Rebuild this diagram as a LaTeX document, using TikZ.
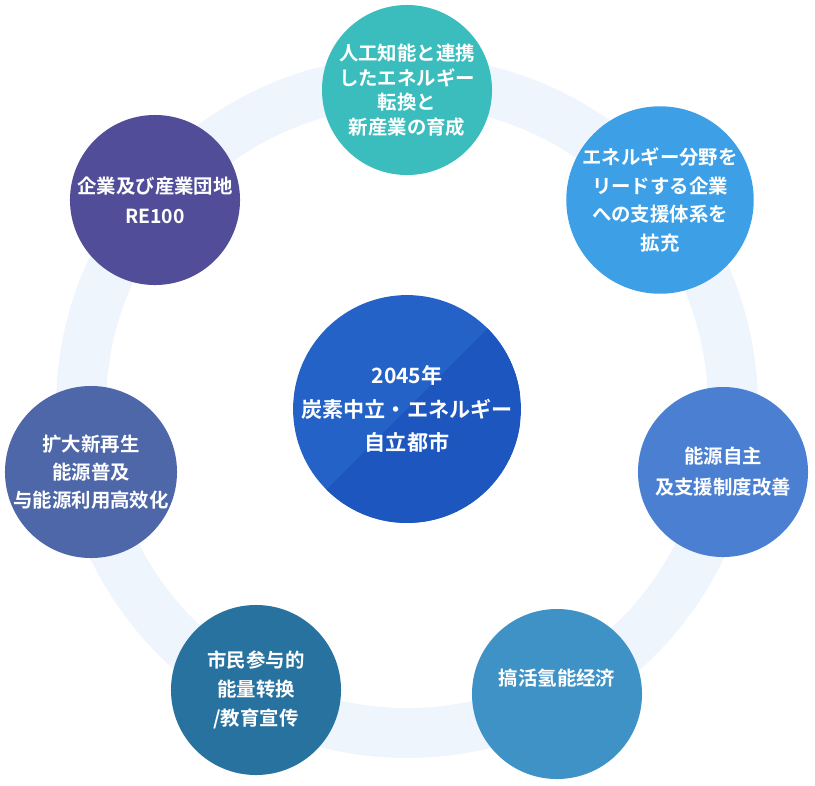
\documentclass[tikz,border=0pt]{standalone}
\usepackage{fontspec}
\newfontfamily\jpfont{Noto Sans CJK JP}[UprightFont=* Bold]
\newfontfamily\scfont{Noto Sans CJK SC}[UprightFont=* Bold]
\usetikzlibrary{positioning}
\definecolor{ringblue}{HTML}{EFF5FD}
\definecolor{hubA}{HTML}{2462C7}
\definecolor{hubB}{HTML}{1D56BE}
\definecolor{cTeal}{HTML}{3BBDBE}
\definecolor{cSky}{HTML}{3DA0E7}
\definecolor{cIndigo}{HTML}{514D98}
\definecolor{cSlate}{HTML}{4E67A9}
\definecolor{cBlue}{HTML}{4A7FD1}
\definecolor{cSea}{HTML}{27729F}
\definecolor{cSteel}{HTML}{3F92C6}
\tikzset{
  bubble/.style={circle, minimum size=4.25cm, inner sep=0pt, text=white, align=center},
  jp/.style={font=\jpfont\fontsize{13.8}{#1}\selectfont},
  sc/.style={font=\scfont\fontsize{13.8}{#1}\selectfont}
}
\begin{document}
\begin{tikzpicture}[x=0.025cm, y=-0.025cm]
      \useasboundingbox (0,0) rectangle (815,785);
      % Background ring
      \coordinate (O) at (407,407);
      \draw[ringblue, line width=1.25cm] (O) circle[radius=326];
      % Hub
      \node[bubble, minimum size=5.65cm, fill=hubA,
        font=\jpfont\fontsize{15}{24}\selectfont,
        path picture={\fill[hubB] (path picture bounding box.south west)
          -- (path picture bounding box.north east)
          -- (path picture bounding box.south east) -- cycle;}]
        (hub) at (407,409) {2045年\\炭素中立・エネルギー\\自立都市};
      % Outer circles
      \node[bubble, fill=cTeal, jp=17.5] (ai) at (407,90)
        {人工知能と連携\\したエネルギー\\転換と\\新産業の育成};
      \node[bubble, fill=cSky, jp=20.5] (lead) at (660,200)
        {エネルギー分野を\\リードする企業\\への支援体系を\\拡充};
      \node[bubble, fill=cBlue, sc=22] (self) at (723,472)
        {能源自主\\及支援制度改善};
      \node[bubble, fill=cSteel, sc=20] (hydro) at (557,694) {};
      \node[sc=20, text=white] (hydrotxt) at ([yshift=11]hydro.center) {搞活氢能经济};
      \node[bubble, fill=cSea, sc=20.5] (civic) at (256,690)
        {市民参与的\\能量转换\\/教育宣传};
      \node[bubble, fill=cSlate, sc=20] (renew) at (91,472)
        {扩大新再生\\能源普及\\与能源利用高效化};
      \node[bubble, fill=cIndigo, jp=21.5] (park) at (155,200)
        {企業及び産業団地\\RE100};
\end{tikzpicture}
\end{document}
